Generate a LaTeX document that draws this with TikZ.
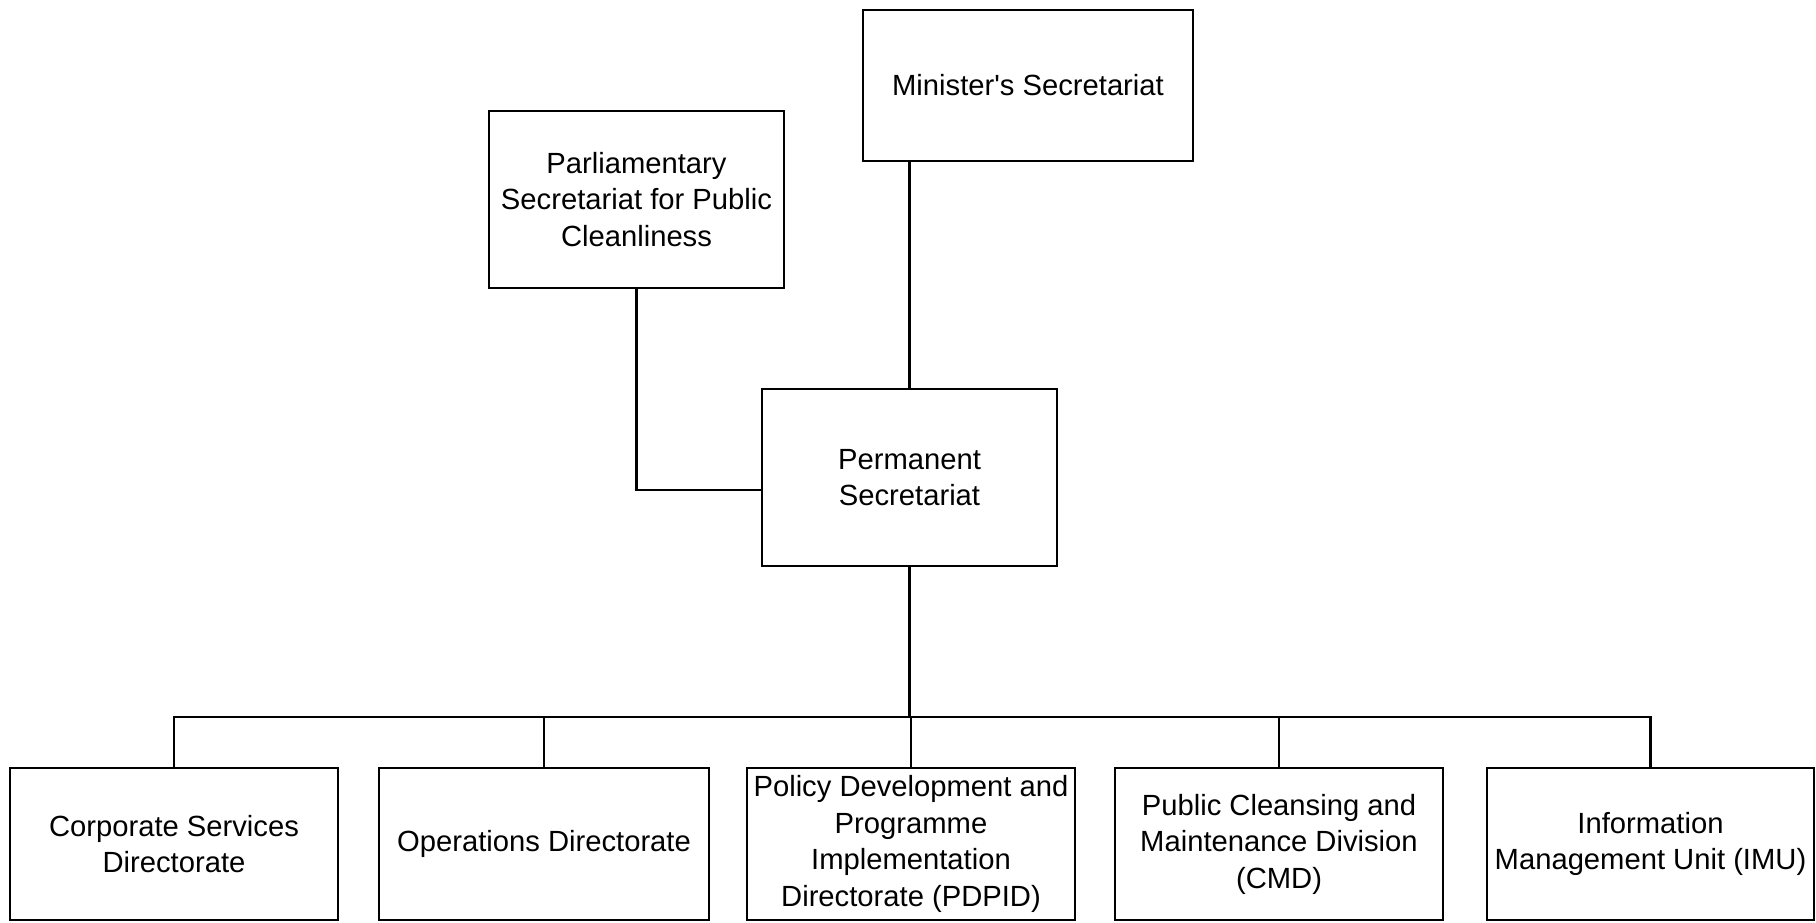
\documentclass[tikz,border=0pt]{standalone}
\usepackage{fontspec}
\setmainfont{Liberation Sans}
\newfontfamily\plainfont{Liberation Sans}
\begin{document}
\begin{tikzpicture}[x=0.5pt,y=-0.5pt,
  box/.style={draw=black, line width=1.3pt, fill=white, align=center, inner sep=0pt,
    font=\plainfont\fontsize{14.6}{18.25}\selectfont},
  link/.style={draw=black, line width=1.3pt}]
\path[fill=white] (0,0) rectangle (1816,922);
\useasboundingbox (0,0) rectangle (1816,922);
\node[box, minimum width=165pt, minimum height=75.5pt] (min) at (1028,85.5) {Minister's Secretariat};
\node[box, minimum width=147.5pt, minimum height=88.5pt] (parl) at (636.5,199.5) {Parliamentary\\Secretariat for Public\\Cleanliness};
\node[box, minimum width=147.5pt, minimum height=88.5pt] (perm) at (909.5,477.5) {Permanent\\Secretariat};
\node[box, minimum width=164pt, minimum height=76pt] (b1) at (174,844) {Corporate Services\\Directorate};
\node[box, minimum width=165pt, minimum height=76pt] (b2) at (544,844) {Operations Directorate};
\node[box, minimum width=164pt, minimum height=76pt] (b3) at (911,844) {Policy Development and\\Programme\\Implementation\\Directorate (PDPID)};
\node[box, minimum width=164pt, minimum height=76pt] (b4) at (1279,844) {Public Cleansing and\\Maintenance Division\\(CMD)};
\node[box, minimum width=163.5pt, minimum height=76pt] (b5) at (1650.5,844) {Information\\Management Unit (IMU)};
\coordinate (bus) at (910,717);
\coordinate (pj) at (762,490);
\draw[link] (perm.north) -- (perm.north |- min.south);
\draw[link] (parl.south) |- (pj);
\draw[link] (perm.south) -- (perm.south |- bus);
\draw[link] (b1.north) -- (b1.north |- bus) -- (b5.north |- bus) -- (b5.north);
\draw[link] (b2.north) -- (b2.north |- bus);
\draw[link] (b3.north) -- (b3.north |- bus);
\draw[link] (b4.north) -- (b4.north |- bus);
\end{tikzpicture}
\end{document}
